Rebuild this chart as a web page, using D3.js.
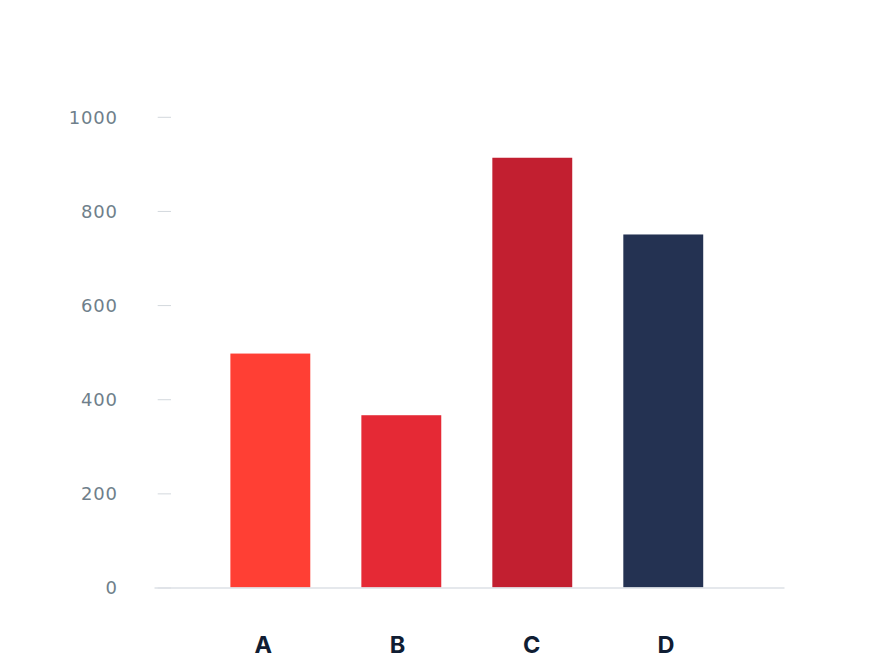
<!DOCTYPE html>
<html>
<head>
<meta charset="utf-8">
<script src="https://cdn.jsdelivr.net/npm/d3@7"></script>
<style>
html,body{margin:0;padding:0;background:#fff;}
svg{display:block;}
</style>
</head>
<body>
<svg id="chart" width="880" height="660"></svg>
<script>
const categories = ["A", "B", "C", "D"];
const values = [497, 366, 913, 750];
const colors = ["#ff3f34", "#e52935", "#c21f30", "#243252"];
const yTicks = [0, 200, 400, 600, 800, 1000];

const svg = d3.select("#chart");

const y = d3.scaleLinear().domain([0, 1000]).range([587.5, 116.8]);
const x = d3.scaleBand().domain(categories).range([154, 784])
  .paddingInner(0.39).paddingOuter(0.6).align(0.486);
const xLabel = d3.scalePoint().domain(categories).range([263.3, 666]);

// y axis tick marks and labels
const yAxis = d3.axisLeft(y).tickValues(yTicks).tickSize(13.3).tickPadding(40).tickFormat(d3.format("d"));
const gy = svg.append("g").attr("transform", "translate(171,0)").call(yAxis);
gy.select(".domain").remove();
gy.selectAll(".tick line").attr("stroke", "#d3d8dd").attr("stroke-width", 1);
gy.selectAll(".tick text")
  .attr("fill", "#6f7f8b")
  .attr("font-family", "'DejaVu Sans', Inter, sans-serif")
  .attr("font-size", 18)
  .attr("letter-spacing", 0.8)
  .attr("dy", "0.36em");

// bars
svg.append("g").selectAll("rect")
  .data(categories)
  .join("rect")
  .attr("x", d => x(d))
  .attr("width", x.bandwidth())
  .attr("y", (d, i) => y(values[i]))
  .attr("height", (d, i) => y(0) - y(values[i]))
  .attr("fill", (d, i) => colors[i]);

// baseline
const xAxis = d3.axisBottom(x).tickSize(0).tickFormat("");
const gx = svg.append("g").attr("transform", `translate(0,${y(0)})`).call(xAxis);
gx.select(".domain").attr("stroke", "#dde1e6").attr("stroke-width", 1.5);

// category labels
svg.append("g").selectAll("text")
  .data(categories)
  .join("text")
  .attr("x", d => xLabel(d))
  .attr("y", 652.7)
  .attr("text-anchor", "middle")
  .attr("font-family", "Inter, Roboto, sans-serif")
  .attr("font-weight", 700)
  .attr("font-size", 23.5)
  .attr("fill", "#101d33")
  .text(d => d);
</script>
</body>
</html>
